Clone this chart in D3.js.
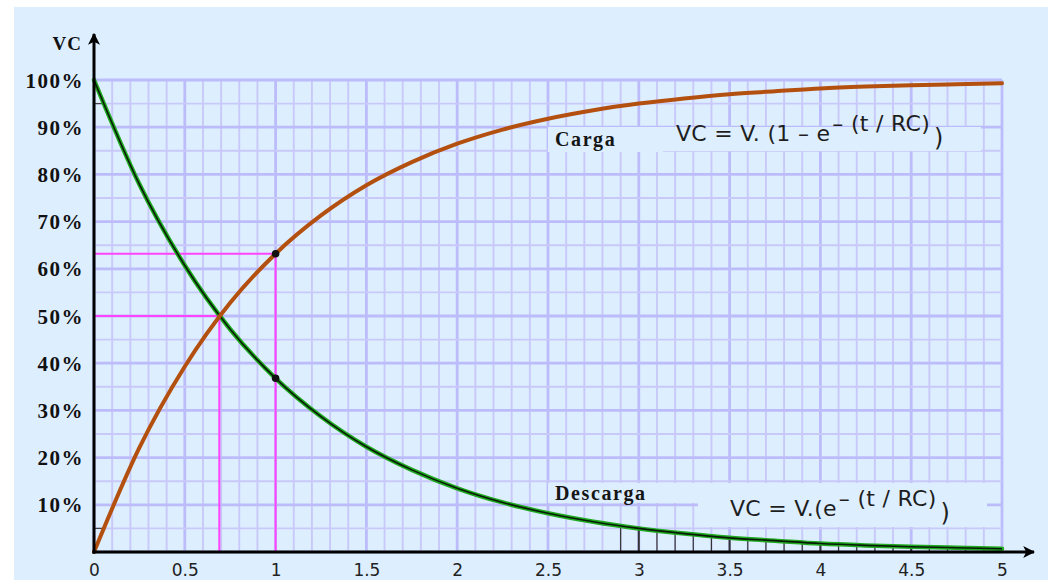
<!DOCTYPE html>
<html>
<head>
<meta charset="utf-8">
<script src="https://cdn.jsdelivr.net/npm/d3@7"></script>
<style>
  html, body { margin: 0; padding: 0; background: #ffffff; }
  svg { display: block; }
</style>
</head>
<body>
<svg id="chart" width="1048" height="580"></svg>
<script>
// ---- data ----
const timeValues = [0, 0.25, 0.5, 0.75, 1, 1.25, 1.5, 1.75, 2, 2.25, 2.5, 2.75, 3, 3.25, 3.5, 3.75, 4, 4.25, 4.5, 4.75, 5];
const cargaValues = [0, 22.1, 39.3, 52.8, 63.2, 71.3, 77.7, 82.6, 86.5, 89.5, 91.8, 93.6, 95.0, 96.1, 97.0, 97.6, 98.2, 98.6, 98.9, 99.1, 99.3];
const descargaValues = [100, 77.9, 60.7, 47.2, 36.8, 28.7, 22.3, 17.4, 13.5, 10.5, 8.2, 6.4, 5.0, 3.9, 3.0, 2.4, 1.8, 1.4, 1.1, 0.9, 0.7];
const xTickValues = [0, 0.5, 1, 1.5, 2, 2.5, 3, 3.5, 4, 4.5, 5];
const xTickLabels = ["0", "0.5", "1", "1.5", "2", "2.5", "3", "3.5", "4", "4.5", "5"];
const yTickValues = [10, 20, 30, 40, 50, 60, 70, 80, 90, 100];
const yTickLabels = ["10%", "20%", "30%", "40%", "50%", "60%", "70%", "80%", "90%", "100%"];
const markedPoints = [{ t: 1, v: 63.2 }, { t: 1, v: 36.8 }];
const guideLines = [{ t: 1, v: 63.2 }, { t: 0.69, v: 50 }];
const hatchTimes = [2.9, 3.0, 3.1, 3.2, 3.3, 3.4, 3.5, 3.6, 3.7, 3.8, 3.9, 4.0, 4.1, 4.2, 4.3, 4.4, 4.5, 4.6, 4.7, 4.8, 4.9];

// ---- layout ----
const svg = d3.select("#chart");
const x = d3.scaleLinear().domain([0, 5]).range([94, 1002]);
const y = d3.scaleLinear().domain([0, 100]).range([552, 80]);
const bg = "#ddeeff";

svg.append("rect").attr("x", 14).attr("y", 7).attr("width", 1034).attr("height", 573).attr("fill", bg);

// ---- grid ----
const grid = svg.append("g");
const xMinor = d3.range(0, 51).map(i => i / 10);
const yMinor = d3.range(0, 21).map(i => i * 5);
grid.selectAll("line.vx").data(xMinor).join("line")
  .attr("x1", d => x(d)).attr("x2", d => x(d))
  .attr("y1", y(0)).attr("y2", y(100))
  .attr("stroke", (d, i) => i % 5 === 0 ? "#bcbcfa" : "#c9c9f9")
  .attr("stroke-width", (d, i) => i % 5 === 0 ? 2.8 : 1.9);
grid.selectAll("line.hy").data(yMinor).join("line")
  .attr("x1", x(0)).attr("x2", x(5))
  .attr("y1", d => y(d)).attr("y2", d => y(d))
  .attr("stroke", (d, i) => i % 2 === 0 ? "#bcbcfa" : "#c9c9f9")
  .attr("stroke-width", (d, i) => i % 2 === 0 ? 2.8 : 1.9);

// ---- boxes hiding the grid behind labels ----
const boxes = [
  { x: 548, y: 127, w: 115, h: 25 },
  { x: 663, y: 127, w: 318, h: 24 },
  { x: 548, y: 483, w: 150, h: 20 },
  { x: 698, y: 483, w: 289, h: 44 }
];
svg.selectAll("rect.box").data(boxes).join("rect")
  .attr("x", d => d.x).attr("y", d => d.y).attr("width", d => d.w).attr("height", d => d.h)
  .attr("fill", bg);

// ---- hatch marks under the discharge curve ----
const descInterp = d3.scaleLinear().domain(timeValues).range(descargaValues);
svg.selectAll("line.hatch").data(hatchTimes).join("line")
  .attr("x1", d => x(d)).attr("x2", d => x(d))
  .attr("y1", y(0)).attr("y2", d => y(descInterp(d)))
  .attr("stroke", "#333").attr("stroke-width", (d, i) => (Math.round(d * 10) % 5 === 0) ? 2 : 1.2);

// small marks on y axis
svg.selectAll("line.ym").data([5, 95]).join("line")
  .attr("x1", x(0)).attr("x2", x(0) + 11)
  .attr("y1", d => y(d)).attr("y2", d => y(d))
  .attr("stroke", "#444").attr("stroke-width", 1.2);

// ---- magenta guides ----
const gg = svg.append("g").attr("stroke", "#ff44ff").attr("stroke-width", 2).attr("fill", "none");
guideLines.forEach(g => {
  gg.append("path").attr("d", `M${x(0)},${y(g.v)}H${x(g.t)}V${y(0)}`);
});

// ---- curves ----
const line = d3.line().x((d, i) => x(timeValues[i])).y(d => y(d)).curve(d3.curveMonotoneX);
svg.append("path").attr("d", line(descargaValues))
  .attr("fill", "none").attr("stroke", "#1faa1f").attr("stroke-width", 4.5).attr("stroke-linecap", "round");
svg.append("path").attr("d", line(descargaValues))
  .attr("fill", "none").attr("stroke", "#0a1a0a").attr("stroke-width", 1.6);
svg.append("path").attr("d", line(cargaValues))
  .attr("fill", "none").attr("stroke", "#b4500f").attr("stroke-width", 4).attr("stroke-linecap", "round");

svg.selectAll("circle.pt").data(markedPoints).join("circle")
  .attr("cx", d => x(d.t)).attr("cy", d => y(d.v)).attr("r", 3.8).attr("fill", "#111");

// ---- axes ----
const defs = svg.append("defs");
defs.append("marker").attr("id", "arr").attr("viewBox", "0 0 10 10").attr("refX", 9).attr("refY", 5)
  .attr("markerWidth", 4).attr("markerHeight", 4).attr("orient", "auto").attr("markerUnits", "strokeWidth")
  .append("path").attr("d", "M0,0L10,5L0,10L2.5,5Z").attr("fill", "#000");

svg.append("line").attr("x1", x(0)).attr("y1", y(0) + 1.5).attr("x2", x(0)).attr("y2", 34)
  .attr("stroke", "#000").attr("stroke-width", 3).attr("marker-end", "url(#arr)");
svg.append("line").attr("x1", x(0) - 1.5).attr("y1", y(0)).attr("x2", 1034).attr("y2", y(0))
  .attr("stroke", "#000").attr("stroke-width", 3).attr("marker-end", "url(#arr)");

const yAxis = d3.axisLeft(y).tickValues(yTickValues).tickSize(0).tickPadding(0)
  .tickFormat((d, i) => yTickLabels[i]);
const gy = svg.append("g").attr("transform", `translate(84,0)`).call(yAxis);
gy.select(".domain").remove();
gy.selectAll("text").attr("font-family", "'Liberation Serif', 'Times New Roman', serif")
  .attr("font-weight", "bold").attr("font-size", 21).attr("letter-spacing", 1.5)
  .attr("fill", "#111").attr("dy", "0.34em");

const xAxis = d3.axisBottom(x).tickValues(xTickValues).tickSize(0).tickPadding(0)
  .tickFormat((d, i) => xTickLabels[i]);
const gx = svg.append("g").attr("transform", `translate(0,576)`).call(xAxis);
gx.select(".domain").remove();
gx.selectAll("text").attr("font-family", "'DejaVu Sans', Verdana, sans-serif")
  .attr("font-size", 17).attr("fill", "#222").attr("dy", "0");

svg.append("text").attr("x", 82).attr("y", 50).attr("text-anchor", "end")
  .attr("font-family", "'Liberation Serif', serif").attr("font-weight", "bold")
  .attr("font-size", 19).attr("letter-spacing", 1).attr("fill", "#111").text("VC");

// ---- labels ----
const serifLabel = (tx, ty, s, ls) => svg.append("text").attr("x", tx).attr("y", ty)
  .attr("font-family", "'Liberation Serif', serif").attr("font-weight", "bold")
  .attr("font-size", 20).attr("letter-spacing", ls).attr("fill", "#151515").text(s);
serifLabel(555, 146, "Carga", 1.6);
serifLabel(555, 500, "Descarga", 1.6);

const fFont = "'DejaVu Sans', Verdana, sans-serif";
const f1 = svg.append("text").attr("x", 676).attr("y", 141).attr("font-family", fFont)
  .attr("font-size", 22).attr("letter-spacing", 0.3).attr("fill", "#1e1e1e");
f1.append("tspan").text("VC = V. (1 – e");
f1.append("tspan").attr("dy", -10).attr("dx", 2).text("– (t / RC)");
f1.append("tspan").attr("dy", 15).attr("dx", 4).attr("font-size", 24).text(")");

const f2 = svg.append("text").attr("x", 730).attr("y", 516).attr("font-family", fFont)
  .attr("font-size", 22).attr("letter-spacing", 0.3).attr("fill", "#1e1e1e");
f2.append("tspan").text("VC = V.(e");
f2.append("tspan").attr("dy", -10).attr("dx", 2).text("– (t / RC)");
f2.append("tspan").attr("dy", 15).attr("dx", 4).attr("font-size", 24).text(")");
</script>
</body>
</html>
